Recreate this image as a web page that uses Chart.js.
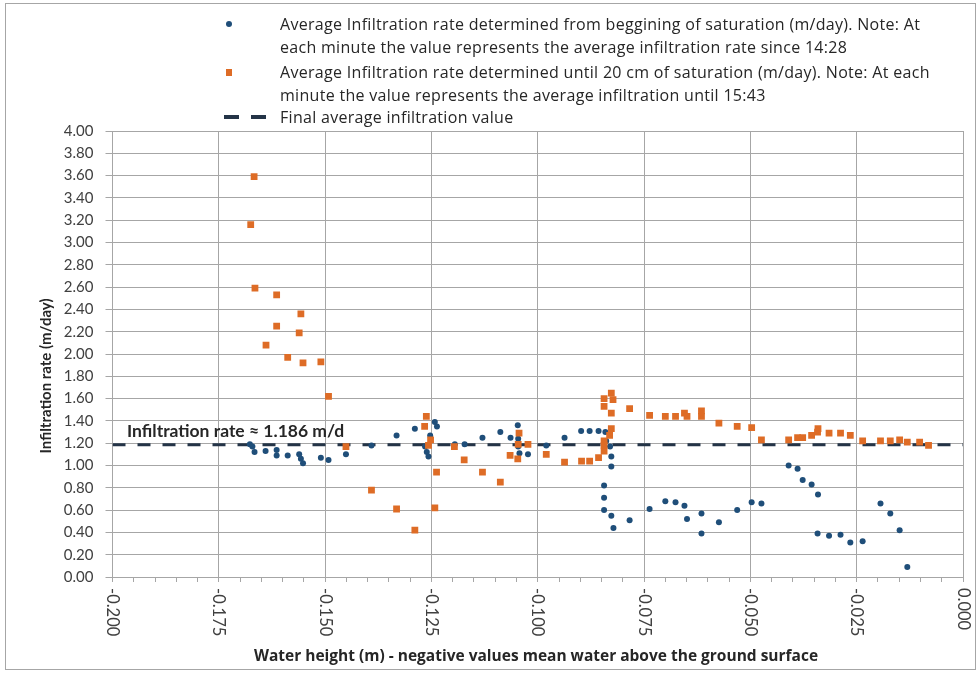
<!DOCTYPE html>
<html>
<head>
<meta charset="utf-8">
<script src="https://cdn.jsdelivr.net/npm/chart.js@4/dist/chart.umd.min.js"></script>
<style>
    html, body { margin: 0; padding: 0; background: #fff; }
    #wrap { position: relative; width: 977px; height: 673px; font-family: Lato, "Open Sans", sans-serif; }
    #frame { position: absolute; left: 5px; top: 3px; right: 1px; bottom: 3px; border: 1px solid #a6a6a6; pointer-events: none; }
    .leg { position: absolute; left: 280px; font-family: "Open Sans", sans-serif; font-size: 16px; letter-spacing: 0.3px; line-height: 22.5px; color: #262626; white-space: nowrap; }
    .mk { position: absolute; }
</style>
</head>
<body>
<div id="wrap">
    <canvas id="chart" width="977" height="673"></canvas>
    <div id="frame"></div>
    <div class="mk" style="left:226px;top:21px;width:6px;height:6px;border-radius:50%;background:#1f4e79;"></div>
    <div class="leg" style="top:13px;">Average Infiltration rate determined from beggining of saturation (m/day). Note: At<br>each minute the value represents the average infiltration rate since 14:28</div>
    <div class="mk" style="left:226px;top:69px;width:6px;height:7px;background:#de6c26;"></div>
    <div class="leg" style="top:61px;">Average Infiltration rate determined until 20 cm of saturation (m/day). Note: At each<br>minute the value represents the average infiltration until 15:43</div>
    <div class="mk" style="left:224px;top:115px;width:15px;height:4px;background:#243447;"></div>
    <div class="mk" style="left:251px;top:115px;width:15px;height:4px;background:#243447;"></div>
    <div class="leg" style="top:106px;">Final average infiltration value</div>
</div>
<script>
// Valeurs
const blueX = [-0.1677, -0.1671, -0.1666, -0.1640, -0.1614, -0.1614, -0.1588, -0.1561, -0.1557, -0.1552,
    -0.1510, -0.1492, -0.1451, -0.1391, -0.1332, -0.1289, -0.1265, -0.1261, -0.1257, -0.1253,
    -0.1242, -0.1237, -0.1195, -0.1172, -0.1130, -0.1088, -0.1064, -0.1047, -0.1046, -0.1046,
    -0.1043, -0.1023, -0.0980, -0.0937, -0.0898, -0.0878, -0.0857, -0.0841, -0.0839, -0.0830,
    -0.0827, -0.0827, -0.0844, -0.0844, -0.0844, -0.0827, -0.0822, -0.0784, -0.0737, -0.0700,
    -0.0676, -0.0655, -0.0649, -0.0615, -0.0615, -0.0574, -0.0531, -0.0497, -0.0474, -0.0410,
    -0.0389, -0.0377, -0.0356, -0.0341, -0.0342, -0.0315, -0.0288, -0.0265, -0.0236, -0.0194,
    -0.0171, -0.0149, -0.0131];
const blueY = [1.19, 1.17, 1.12, 1.13, 1.14, 1.09, 1.09, 1.10, 1.06, 1.02,
    1.07, 1.05, 1.10, 1.18, 1.27, 1.33, 1.17, 1.12, 1.08, 1.27,
    1.39, 1.35, 1.19, 1.19, 1.25, 1.30, 1.25, 1.36, 1.24, 1.17,
    1.11, 1.10, 1.18, 1.25, 1.31, 1.31, 1.31, 1.30, 1.22, 1.17,
    1.08, 0.99, 0.82, 0.71, 0.60, 0.55, 0.44, 0.51, 0.61, 0.68,
    0.67, 0.64, 0.52, 0.57, 0.39, 0.49, 0.60, 0.67, 0.66, 1.00,
    0.97, 0.87, 0.83, 0.74, 0.39, 0.37, 0.38, 0.31, 0.32, 0.66,
    0.57, 0.42, 0.09];

const orangeX = [-0.1675, -0.1667, -0.1665, -0.1639, -0.1614, -0.1614, -0.1588, -0.1561, -0.1557, -0.1552,
    -0.1510, -0.1492, -0.1451, -0.1391, -0.1332, -0.1289, -0.1266, -0.1262, -0.1257, -0.1252,
    -0.1242, -0.1238, -0.1196, -0.1173, -0.1130, -0.1088, -0.1065, -0.1047, -0.1046, -0.1044,
    -0.1023, -0.0980, -0.0937, -0.0897, -0.0878, -0.0857, -0.0844, -0.0844, -0.0844, -0.0831,
    -0.0827, -0.0827, -0.0844, -0.0844, -0.0827, -0.0823, -0.0784, -0.0737, -0.0700, -0.0676,
    -0.0655, -0.0649, -0.0615, -0.0615, -0.0574, -0.0531, -0.0497, -0.0474, -0.0410, -0.0389,
    -0.0377, -0.0356, -0.0342, -0.0341, -0.0315, -0.0288, -0.0265, -0.0236, -0.0194, -0.0171,
    -0.0149, -0.0131, -0.0102, -0.0081];
const orangeY = [3.16, 3.59, 2.59, 2.08, 2.53, 2.25, 1.97, 2.19, 2.36, 1.92,
    1.93, 1.62, 1.17, 0.78, 0.61, 0.42, 1.35, 1.44, 1.18, 1.23,
    0.62, 0.94, 1.17, 1.05, 0.94, 0.85, 1.09, 1.06, 1.19, 1.29,
    1.19, 1.10, 1.03, 1.04, 1.04, 1.07, 1.22, 1.18, 1.13, 1.27,
    1.33, 1.47, 1.53, 1.60, 1.65, 1.59, 1.51, 1.45, 1.44, 1.44,
    1.47, 1.44, 1.49, 1.44, 1.38, 1.35, 1.34, 1.23, 1.23, 1.25,
    1.25, 1.27, 1.30, 1.33, 1.29, 1.29, 1.27, 1.22, 1.22, 1.22,
    1.23, 1.21, 1.21, 1.18];

const finalRate = 1.186;
const xRange = [-0.200, 0.000];

const FONT = 'Lato, "Open Sans", sans-serif';
const TEXT = '#404040';
const GRID = '#a6a6a6';

function isMajor(v) {
    const q = v / 0.025;
    return Math.abs(q - Math.round(q)) < 1e-6;
}

// Étiquettes verticales de l'axe X, titres des axes et annotation
const decorPlugin = {
    id: 'decor',
    afterDraw(chart) {
        const ctx = chart.ctx;
        const xs = chart.scales.x;
        const area = chart.chartArea;
        ctx.save();
        ctx.fillStyle = TEXT;
        ctx.font = '16.5px ' + FONT;
        ctx.textAlign = 'left';
        ctx.textBaseline = 'middle';
        xs.ticks.forEach(t => {
            if (!isMajor(t.value)) return;
            const px = xs.getPixelForValue(t.value);
            ctx.save();
            ctx.translate(px, area.bottom + 11);
            ctx.rotate(Math.PI / 2);
            ctx.fillText(t.value.toFixed(3), 0, 0);
            ctx.restore();
        });

        ctx.fillStyle = '#262626';
        ctx.font = 'bold 15.5px "Open Sans", sans-serif';
        ctx.textAlign = 'center';
        ctx.fillText('Water height (m) - negative values mean water above the ground surface', 536, 657);

        ctx.font = 'bold 15px ' + FONT;
        ctx.save();
        ctx.translate(46, 376);
        ctx.rotate(-Math.PI / 2);
        ctx.fillText('Infiltration rate (m/day)', 0, 0);
        ctx.restore();

        ctx.font = 'bold 17.5px ' + FONT;
        ctx.textAlign = 'left';
        ctx.textBaseline = 'alphabetic';
        ctx.fillText('Infiltration rate \u2248 1.186 m/d', 127, 437);
        ctx.restore();
    }
};

const ctx = document.getElementById('chart').getContext('2d');
new Chart(ctx, {
    type: 'scatter',
    data: {
        datasets: [
            {
                label: 'Final average infiltration value',
                data: xRange.map(x => ({ x: x, y: finalRate })),
                showLine: true,
                borderColor: '#243447',
                borderWidth: 3,
                borderDash: [13, 12],
                pointRadius: 0,
                order: 3
            },
            {
                label: 'Average Infiltration rate determined from beggining of saturation (m/day)',
                data: blueX.map((x, i) => ({ x: x, y: blueY[i] })),
                backgroundColor: '#1f4e79',
                borderColor: '#1f4e79',
                borderWidth: 0,
                pointRadius: 3,
                order: 2
            },
            {
                label: 'Average Infiltration rate determined until 20 cm of saturation (m/day)',
                data: orangeX.map((x, i) => ({ x: x, y: orangeY[i] })),
                backgroundColor: '#de6c26',
                borderColor: '#de6c26',
                borderWidth: 0,
                pointStyle: 'rect',
                pointRadius: 4.8,
                order: 1
            }
        ]
    },
    options: {
        responsive: false,
        animation: false,
        layout: {
            padding: { left: 0, top: 131, right: 14, bottom: 0 }
        },
        plugins: {
            legend: { display: false },
            tooltip: { enabled: false }
        },
        scales: {
            x: {
                type: 'linear',
                min: xRange[0],
                max: xRange[1],
                afterFit: scale => { scale.height = 96; },
                ticks: {
                    display: false,
                    stepSize: 0.005
                },
                grid: {
                    color: c => (c.tick && isMajor(c.tick.value)) ? GRID : 'transparent',
                    tickColor: GRID,
                    tickLength: 5
                },
                border: { color: GRID }
            },
            y: {
                min: 0,
                max: 4,
                afterFit: scale => { scale.width = 112.5; },
                ticks: {
                    stepSize: 0.2,
                    padding: 12,
                    color: TEXT,
                    font: { family: FONT, size: 15 },
                    callback: v => v.toFixed(2)
                },
                grid: {
                    color: GRID,
                    tickColor: GRID,
                    tickLength: 7
                },
                border: { color: GRID }
            }
        }
    },
    plugins: [decorPlugin]
});
</script>
</body>
</html>
